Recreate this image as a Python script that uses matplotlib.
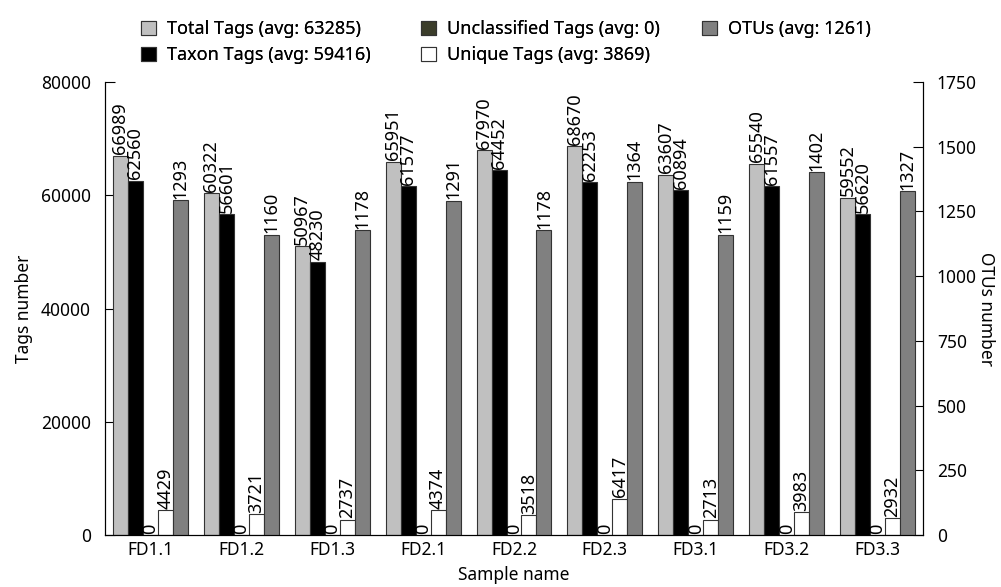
import matplotlib
import numpy as np

matplotlib.use("Agg")
from matplotlib import pyplot as plt

samples = ["FD1.1", "FD1.2", "FD1.3", "FD2.1", "FD2.2", "FD2.3", "FD3.1", "FD3.2", "FD3.3"]
total_tags = [66989, 60322, 50967, 65951, 67970, 68670, 63607, 65540, 59552]
taxon_tags = [62560, 56601, 48230, 61577, 64452, 62253, 60894, 61557, 56620]
unclassified_tags = [0, 0, 0, 0, 0, 0, 0, 0, 0]
unique_tags = [4429, 3721, 2737, 4374, 3518, 6417, 2713, 3983, 2932]
otus = [1293, 1160, 1178, 1291, 1178, 1364, 1159, 1402, 1327]

legend_labels = [
    "Total Tags (avg: 63285)",
    "Taxon Tags (avg: 59416)",
    "Unclassified Tags (avg: 0)",
    "Unique Tags (avg: 3869)",
    "OTUs (avg: 1261)",
]

plt.rcParams["font.family"] = ["Noto Sans", "DejaVu Sans"]
fs = 12.5

W, H = 1001, 587
fig = plt.figure(figsize=(W / 100, H / 100), dpi=100)
ax = fig.add_axes([105 / W, 1 - 535 / H, 818 / W, (535 - 82) / H])
ax2 = ax.twinx()

x = np.arange(len(samples))
w = 0.165
edge = "#333333"
left_series = [
    (total_tags, "#c0c0c0"),
    (taxon_tags, "#000000"),
    (unclassified_tags, "#3b3d2a"),
    (unique_tags, "#ffffff"),
]

handles = []
for i, (vals, color) in enumerate(left_series):
    pos = x + (i - 2) * w
    bars = ax.bar(pos, vals, w, color=color, edgecolor=edge, linewidth=0.8, zorder=2)
    handles.append(bars)
    for px, v in zip(pos, vals):
        ax.text(px, v + 250, str(v), rotation=90, ha="center", va="bottom", fontsize=13)

pos = x + 2 * w
bars = ax2.bar(pos, otus, w, color="#808080", edgecolor=edge, linewidth=0.8, zorder=2)
handles.append(bars)
for px, v in zip(pos, otus):
    ax2.text(px, v + 6, str(v), rotation=90, ha="center", va="bottom", fontsize=13)

ax.set_xlim(-0.5, len(samples) - 0.5)
ax.set_ylim(0, 80000)
ax2.set_ylim(0, 1750)
ax.set_yticks([0, 20000, 40000, 60000, 80000])
ax2.set_yticks([0, 250, 500, 750, 1000, 1250, 1500, 1750])
ax.set_xticks(x)
ax.set_xticklabels(samples)

ax.tick_params(axis="y", direction="in", length=7, labelsize=fs, pad=10)
ax2.tick_params(axis="y", direction="in", length=7, labelsize=fs, pad=10)
ax.tick_params(axis="x", length=0, labelsize=fs, pad=4)

for a in (ax, ax2):
    a.spines["top"].set_visible(False)

ax.set_xlabel("Sample name", fontsize=fs, labelpad=5)
ax.set_ylabel("Tags number", fontsize=fs, labelpad=6)
ax2.set_ylabel("OTUs number", fontsize=fs, rotation=-90, labelpad=13)

# three fixed-width legend columns
col_x = [141, 421, 702]
cols = [[0, 1], [2, 3], [4]]
for cx, idx in zip(col_x, cols):
    leg = fig.legend(
        [handles[i] for i in idx],
        [legend_labels[i] for i in idx],
        loc="upper left",
        bbox_to_anchor=(cx / W, 1 - 20 / H),
        frameon=False,
        fontsize=13,
        borderpad=0,
        borderaxespad=0,
        handlelength=0.85,
        handleheight=0.85,
        handletextpad=0.6,
        labelspacing=0.45,
    )
    fig.add_artist(leg)

fig.savefig("out.png", dpi=100)
plt.close("all")
